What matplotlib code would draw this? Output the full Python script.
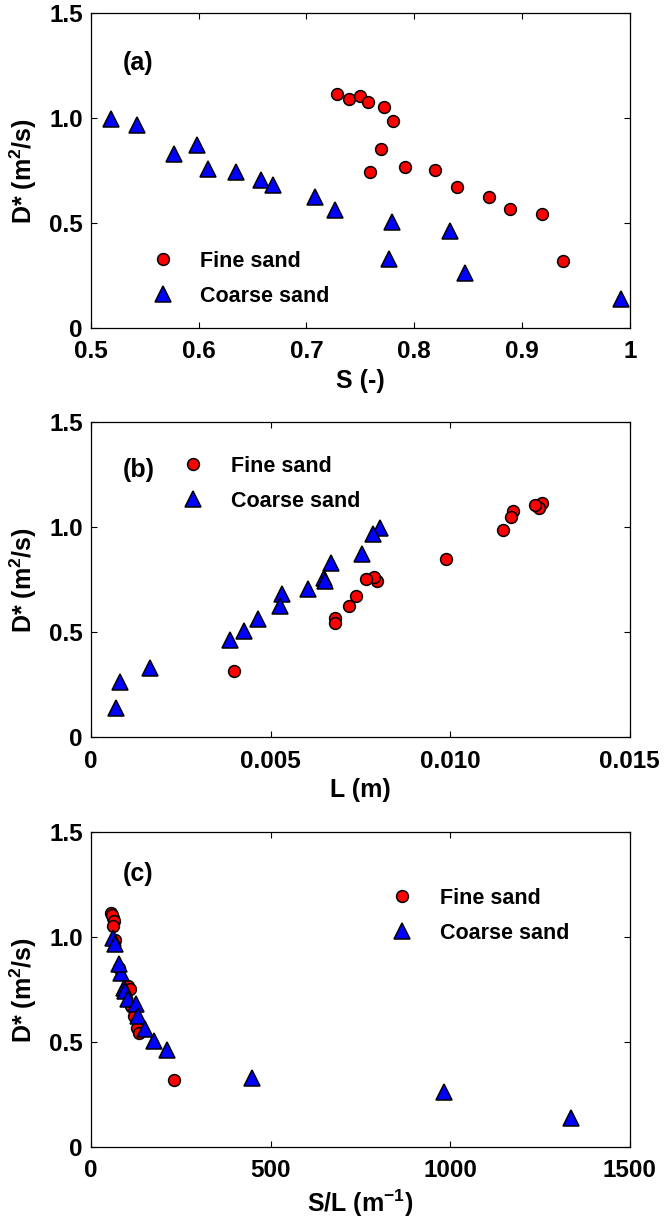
import matplotlib
matplotlib.use('Agg')
import matplotlib.pyplot as plt

plt.rcParams['font.family'] = ['Liberation Sans', 'DejaVu Sans']
plt.rcParams['mathtext.fontset'] = 'custom'
plt.rcParams['mathtext.rm'] = 'Liberation Sans:bold'
plt.rcParams['mathtext.it'] = 'Liberation Sans:bold'
plt.rcParams['mathtext.bf'] = 'Liberation Sans:bold'

# Fine sand: saturation S, length L, S/L and D*
fine_S = [0.728, 0.739, 0.750, 0.7575, 0.772, 0.780, 0.769, 0.759, 0.791,
          0.819, 0.840, 0.8695, 0.889, 0.919, 0.938]
fine_D = [1.114, 1.092, 1.106, 1.079, 1.051, 0.987, 0.851, 0.745, 0.765,
          0.753, 0.674, 0.623, 0.566, 0.545, 0.317]
fine_L = [0.01256, 0.01246, 0.01237, 0.01176, 0.01168, 0.01146, 0.00987, 0.00796,
          0.00787, 0.00765, 0.00739, 0.00718, 0.00678, 0.00678, 0.00397]
fine_SL = [55, 60, 58, 63, 62, 66, 78, 95, 103, 108, 112, 120, 128, 133, 232]

# Coarse sand
coarse_S = [0.519, 0.543, 0.577, 0.598, 0.609, 0.635, 0.658, 0.669, 0.7075,
            0.726, 0.779, 0.777, 0.833, 0.8475, 0.992]
coarse_D = [0.995, 0.968, 0.829, 0.872, 0.758, 0.742, 0.705, 0.680, 0.623,
            0.564, 0.506, 0.328, 0.464, 0.261, 0.138]
coarse_L = [0.00805, 0.00785, 0.00668, 0.00754, 0.00650, 0.00652, 0.00605, 0.00532,
            0.00525, 0.00466, 0.00425, 0.00165, 0.00386, 0.00081, 0.00070]
coarse_SL = [60, 66, 83, 77, 91, 95, 103, 124, 130, 150, 176, 447, 211, 982, 1335]

panels = [
    ('(a)', fine_S, coarse_S, 'S (-)', (0.5, 1.0),
     [0.5, 0.6, 0.7, 0.8, 0.9, 1.0], ['0.5', '0.6', '0.7', '0.8', '0.9', '1'],
     (0.115, 0.245), (0.059, 0.841)),
    ('(b)', fine_L, coarse_L, 'L (m)', (0, 0.015),
     [0, 0.005, 0.010, 0.015], ['0', '0.005', '0.010', '0.015'],
     (0.172, 0.893), (0.059, 0.850)),
    ('(c)', fine_SL, coarse_SL, 'S/L (m$^{-1}$)', (0, 1500),
     [0, 500, 1000, 1500], ['0', '500', '1000', '1500'],
     (0.560, 0.823), (0.059, 0.866)),
]
bottoms = [0.7327, 0.3993, 0.0652]

fig = plt.figure(figsize=(6.66, 12.27), dpi=100)

for (tag, fx, cx, xlab, xlim, xt, xtl, legpos, tagpos), b in zip(panels, bottoms):
    ax = fig.add_axes([0.1366, b, 0.809, 0.2565])
    ax.plot(fx, fine_D, 'o', color='#ff0000', mec='black', mew=1.1, ms=8.5,
            label='Fine sand')
    ax.plot(cx, coarse_D, '^', color='#0000ff', mec='black', mew=1.1, ms=11,
            label='Coarse sand')
    ax.set_xlim(*xlim)
    ax.set_ylim(0, 1.5)
    ax.set_xticks(xt)
    ax.set_xticklabels(xtl)
    ax.set_yticks([0, 0.5, 1.0, 1.5])
    ax.set_yticklabels(['0', '0.5', '1.0', '1.5'])
    ax.tick_params(direction='in', length=4, width=0.8, top=True, right=True,
                   labelsize=17.5)
    ax.tick_params(axis='x', pad=9)
    ax.tick_params(axis='y', pad=6)
    for lab in ax.get_xticklabels() + ax.get_yticklabels():
        lab.set_fontweight('bold')
    for sp in ax.spines.values():
        sp.set_linewidth(0.9)
    ax.set_xlabel(xlab, fontsize=18, fontweight='bold', labelpad=4)
    ax.set_ylabel('D* (m$^2$/s)', fontsize=18, fontweight='bold', labelpad=7)
    ax.text(tagpos[0], tagpos[1], tag, transform=ax.transAxes, fontsize=18,
            fontweight='bold', va='center', ha='left')
    ax.legend(loc='upper left', bbox_to_anchor=legpos, frameon=False,
              prop={'size': 15.5, 'weight': 'bold'}, borderpad=0,
              borderaxespad=0, handlelength=0.9, handletextpad=1.3,
              labelspacing=0.65, numpoints=1)

plt.savefig('out.png', dpi=100)
